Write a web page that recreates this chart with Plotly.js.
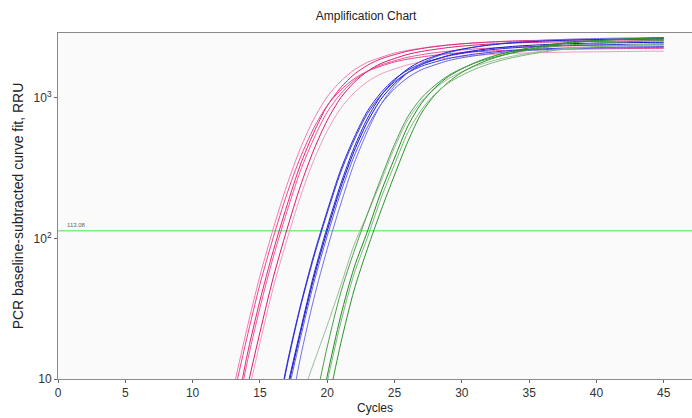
<!DOCTYPE html>
<html>
<head>
<meta charset="utf-8">
<script src="https://cdn.plot.ly/plotly-3.0.1.min.js"></script>
<style>
  html, body { margin: 0; padding: 0; background: #ffffff; }
  #chart { width: 692px; height: 418px; }
</style>
</head>
<body>
<div id="chart"></div>
<script>
// Cycle numbers
const cycles = [1,2,3,4,5,6,7,8,9,10,11,12,13,14,15,16,17,18,19,20,21,22,23,24,25,26,27,28,29,30,31,32,33,34,35,36,37,38,39,40,41,42,43,44,45];

// Threshold
const thresholdValue = 113.08;
const thresholdLabel = "113.08";

// Axis ticks
const xTickVals = [0,5,10,15,20,25,30,35,40,45];
const yTickVals = [10, 100, 1000];
const yTickText = ["10", "10<sup>2</sup>", "10<sup>3</sup>"];

// Pink group (first cycle of each series, then values per cycle)
const pinkStart = [13, 13, 13, 14, 14, 13];
const pink1 = [8.3,22,54,118,238,434,703,1016,1309,1575,1787,1936,2075,2173,2250,2317,2371,2416,2449,2477,2500,2518,2529,2541,2553,2558,2565,2570,2576,2581,2588,2590,2594];
const pink2 = [4.2,14,36,82,170,332,564,874,1178,1466,1703,1889,2024,2144,2234,2308,2367,2416,2456,2487,2513,2534,2548,2560,2571,2580,2586,2592,2598,2604,2609,2613,2617];
const pink3 = [3.8,12.4,32,74,154,300,510,790,1066,1326,1541,1709,1832,1940,2022,2088,2141,2186,2222,2251,2273,2292,2306,2316,2327,2334,2340,2346,2350,2356,2361,2365,2367];
const pink4 = [8.2,21.4,53,115,234,425,690,997,1284,1544,1752,1899,2035,2131,2206,2273,2326,2369,2402,2430,2452,2469,2481,2492,2504,2509,2515,2520,2527,2532,2538,2540];
const pink5 = [6.9,18,45,97,197,359,581,840,1083,1302,1477,1601,1716,1797,1860,1916,1961,1998,2025,2049,2067,2082,2092,2101,2111,2116,2121,2125,2130,2135,2140,2141];
const pink6 = [7.2,19,47,102,206,375,608,879,1133,1363,1546,1676,1796,1880,1947,2005,2052,2091,2120,2144,2164,2179,2189,2199,2210,2214,2219,2224,2229,2234,2239,2241,2245];

// Blue group
const blueStart = [16, 17, 17, 16, 17, 17];
const blue1 = [3.7,12.1,32,73,151,294,499,774,1043,1298,1508,1673,1793,1899,1979,2044,2096,2140,2175,2203,2225,2244,2257,2267,2278,2285,2291,2296,2301,2306];
const blue2 = [8,21,52,113,229,417,676,977,1259,1514,1718,1862,1995,2089,2163,2228,2280,2323,2355,2382,2404,2421,2432,2443,2455,2460,2466,2471,2477];
const blue3 = [7.4,19.3,48,104,211,384,622,899,1158,1393,1581,1713,1835,1922,1990,2050,2098,2137,2167,2191,2212,2227,2237,2248,2259,2263,2269,2273,2279];
const blue4 = [3.9,12.6,33,76,157,307,521,807,1088,1354,1573,1745,1870,1981,2064,2132,2186,2232,2269,2298,2321,2341,2354,2365,2376,2383,2389,2395,2400,2406];
const blue5 = [4.3,14,37,84,175,341,580,899,1212,1508,1752,1943,2082,2205,2298,2374,2434,2485,2526,2559,2584,2606,2621,2633,2645,2654,2660,2667,2672];
const blue6 = [8.5,22,55,120,243,442,717,1036,1335,1605,1821,1974,2115,2214,2293,2362,2417,2462,2496,2525,2548,2566,2578,2590,2602,2608,2614,2619,2626];

// Green group
const greenStart = [18, 19, 19, 20, 19];
const green1 = [7,13,24,46,90,150,254,441,698,942,1159,1363,1528,1676,1796,1902,1992,2071,2144,2199,2246,2282,2313,2340,2362,2384,2400,2411];
const green2 = [3.5,10.5,28,62,113,214,372,631,912,1175,1413,1603,1778,1928,2056,2163,2259,2344,2415,2472,2518,2553,2588,2612,2636,2661,2673];
const green3 = [6,16.9,41,81,150,268,466,737,995,1224,1438,1613,1769,1895,2007,2102,2186,2263,2321,2370,2408,2442,2470,2493,2517,2534,2545];
const green4 = [6.3,17.8,43,85,158,282,490,776,1047,1288,1514,1698,1862,1995,2113,2213,2301,2382,2443,2495,2535,2570,2600,2624,2649,2667];
const green5 = [3.2,9.5,25,56,102,193,335,568,821,1058,1272,1443,1600,1735,1850,1947,2033,2110,2174,2225,2266,2298,2329,2351,2372,2395,2406];

const pinkSeries = [pink1, pink2, pink3, pink4, pink5, pink6];
const blueSeries = [blue1, blue2, blue3, blue4, blue5, blue6];
const greenSeries = [green1, green2, green3, green4, green5];

const pinkColors = ['#f27ab2', '#e0287a', '#ec5a9c', '#d81b70', '#f29ac2', '#e84590'];
const blueColors = ['#3a3ae0', '#1414c8', '#6060e6', '#2a2ad8', '#7070e8', '#2020d0'];
const greenColors = ['#9dbb9d', '#1e8c1e', '#4aa04a', '#2a962a', '#7ab87a'];

function xsFor(start, n) { return cycles.slice(start - 1, start - 1 + n); }

const traces = [];
function addGroup(series, starts, colors) {
  series.forEach((ys, i) => {
    traces.push({
      type: 'scatter', mode: 'lines',
      x: xsFor(starts[i], ys.length), y: ys,
      line: { color: colors[i], width: 1, shape: 'spline', smoothing: 0.8 },
      hoverinfo: 'skip', showlegend: false
    });
  });
}

// threshold line across the plot
const xMax = 47.1;
traces.push({
  type: 'scatter', mode: 'lines',
  x: [0, xMax], y: [thresholdValue, thresholdValue],
  line: { color: '#86ea86', width: 1.5 },
  hoverinfo: 'skip', showlegend: false
});
addGroup(pinkSeries, pinkStart, pinkColors);
addGroup(blueSeries, blueStart, blueColors);
addGroup(greenSeries, greenStart, greenColors);

const layout = {
  width: 692, height: 418,
  margin: { l: 58, r: 0, t: 33, b: 39 },
  paper_bgcolor: '#ffffff',
  plot_bgcolor: '#fafafa',
  font: { family: 'Liberation Sans, Arial, sans-serif', size: 12, color: '#333333' },
  title: {
    text: 'Amplification Chart',
    font: { size: 12, color: '#222222' },
    x: 0.529, xref: 'container', xanchor: 'center',
    y: 0.962, yref: 'container', yanchor: 'middle'
  },
  xaxis: {
    range: [0, xMax],
    tickvals: xTickVals,
    ticks: 'outside', ticklen: 3, tickcolor: '#666',
    showgrid: false, zeroline: false,
    showline: true, mirror: true, linecolor: '#8a8a8a', linewidth: 1,
    tickfont: { size: 12, color: '#333' },
    title: { text: 'Cycles', font: { size: 12, color: '#222' }, standoff: 4 }
  },
  yaxis: {
    type: 'log',
    range: [1, 3.46],
    tickvals: yTickVals, ticktext: yTickText,
    ticks: 'outside', ticklen: 3, tickcolor: '#666',
    showgrid: false, zeroline: false,
    showline: true, mirror: true, linecolor: '#8a8a8a', linewidth: 1,
    tickfont: { size: 12, color: '#333' },
    title: { text: 'PCR baseline-subtracted curve fit, RRU', font: { size: 14, color: '#222' }, standoff: 6 }
  },
  annotations: [{
    text: thresholdLabel, xref: 'x', yref: 'y',
    x: 0.5, y: Math.log10(thresholdValue), xanchor: 'left', yanchor: 'bottom',
    yshift: 1, showarrow: false,
    font: { size: 6, color: '#666' }
  }]
};

Plotly.newPlot('chart', traces, layout, { staticPlot: true, displayModeBar: false });
</script>
</body>
</html>
